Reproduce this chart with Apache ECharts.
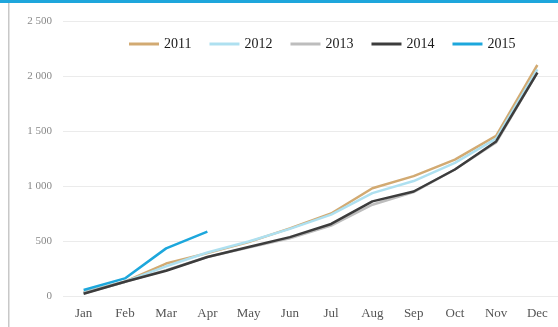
<!DOCTYPE html>
<html>
<head>
<meta charset="utf-8">
<script src="https://cdn.jsdelivr.net/npm/echarts@6/dist/echarts.min.js"></script>
<style>
html,body{margin:0;padding:0;background:#fff;}
#c{width:558px;height:327px;}
</style>
</head>
<body>
<div id="c"></div>
<script>
var months = ['Jan','Feb','Mar','Apr','May','Jun','Jul','Aug','Sep','Oct','Nov','Dec'];
var seriesNames = ['2011','2012','2013','2014','2015'];
var s2011 = [35, 130, 295, 390, 490, 615, 750, 980, 1090, 1240, 1455, 2100];
var s2012 = [30, 130, 270, 395, 495, 610, 740, 935, 1045, 1210, 1430, 2060];
var s2013 = [25, 128, 235, 355, 440, 525, 640, 830, 945, 1150, 1395, 2030];
var s2014 = [20, 130, 230, 355, 445, 535, 655, 860, 950, 1150, 1405, 2030];
var s2015 = [55, 160, 433, 585];
var colors = ['#d2aa72', '#aee0f0', '#bdbdbd', '#3c3c3c', '#1da7dc'];
var yTicks = [0, 500, 1000, 1500, 2000, 2500];

var allData = [s2011, s2012, s2013, s2014, s2015];
var chart = echarts.init(document.getElementById('c'), null, {renderer: 'canvas'});
var font = '"Liberation Serif", "DejaVu Serif", serif';
chart.setOption({
  animation: false,
  backgroundColor: '#fff',
  color: colors,
  textStyle: {fontFamily: font},
  legend: {
    top: 32,
    left: 124,
    itemWidth: 30,
    itemHeight: 3,
    itemGap: 18,
    icon: 'rect',
    textStyle: {fontFamily: font, fontSize: 14, color: '#1a1a1a', fontWeight: 'normal'},
    data: seriesNames
  },
  grid: {left: 63, right: 0, top: 21, bottom: 31, containLabel: false},
  xAxis: {
    type: 'category',
    data: months,
    boundaryGap: true,
    axisLine: {show: false},
    axisTick: {show: false},
    axisLabel: {fontFamily: font, fontSize: 13, color: '#555', margin: 11}
  },
  yAxis: {
    type: 'value',
    min: yTicks[0],
    max: yTicks[yTicks.length - 1],
    interval: 500,
    axisLine: {show: false},
    axisTick: {show: false},
    splitLine: {lineStyle: {color: '#ebebeb', width: 1}},
    axisLabel: {
      fontFamily: font, fontSize: 11, color: '#888', margin: 11,
      formatter: function (v) { return String(v).replace(/\B(?=(\d{3})+(?!\d))/g, ' '); }
    }
  },
  series: seriesNames.map(function (n, i) {
    return {
      name: n,
      type: 'line',
      data: allData[i],
      symbol: 'none',
      lineStyle: {width: 2.5, color: colors[i]},
      itemStyle: {color: colors[i]}
    };
  }),
  graphic: [
    {type: 'rect', left: 0, top: 0, shape: {width: 558, height: 3}, style: {fill: '#1ea6dc'}},
    {type: 'rect', left: 8, top: 3, shape: {width: 1.5, height: 324}, style: {fill: '#c8c8c8'}}
  ]
});
</script>
</body>
</html>
